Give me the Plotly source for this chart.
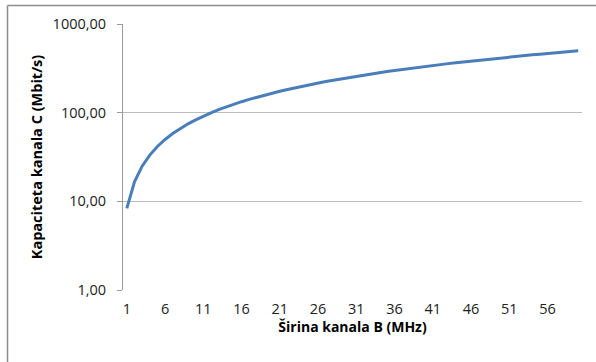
import plotly.graph_objects as go

bandwidth_mhz = list(range(1, 61))
capacity_mbit = [
    8.31, 16.62, 24.93, 33.24, 41.55, 49.86, 58.17, 66.48, 74.79, 83.10,
    91.41, 99.72, 108.03, 116.34, 124.65, 132.96, 141.27, 149.58, 157.89, 166.20,
    174.51, 182.82, 191.13, 199.44, 207.75, 216.06, 224.37, 232.68, 240.99, 249.30,
    257.61, 265.92, 274.23, 282.54, 290.85, 299.16, 307.47, 315.78, 324.09, 332.40,
    340.71, 349.02, 357.33, 365.64, 373.95, 382.26, 390.57, 398.88, 407.19, 415.50,
    423.81, 432.12, 440.43, 448.74, 457.05, 465.36, 473.67, 481.98, 490.29, 498.60,
]
x_tick_vals = [1, 6, 11, 16, 21, 26, 31, 36, 41, 46, 51, 56]
y_tick_vals = [1, 10, 100, 1000]
y_tick_text = ["1,00", "10,00", "100,00", "1000,00"]

font_family = "Open Sans, Liberation Sans, sans-serif"

fig = go.Figure()
fig.add_trace(go.Scatter(
    x=bandwidth_mhz, y=capacity_mbit, mode="lines",
    line=dict(color="#4A7EBB", width=3),
    showlegend=False,
))

W, H = 459, 266
L, T = 123, 24


def px_x(p):
    return (p - L) / W


def px_y(p):
    return 1 + (T - p) / H


border = dict(color="#8C8C8C", width=1.5)

fig.update_layout(
    width=596, height=362,
    margin=dict(l=123, r=14, t=24, b=72),
    paper_bgcolor="white", plot_bgcolor="white",
    font=dict(family=font_family, size=14, color="#222222"),
    xaxis=dict(
        range=[0.5, 60.5],
        tickmode="array", tickvals=x_tick_vals,
        ticktext=[str(v) for v in x_tick_vals],
        showgrid=False, zeroline=False,
        showline=False,
        ticks="", ticklen=0,
        ticklabelstandoff=8,
        automargin=False,
        tickfont=dict(size=14.5),
        title=dict(text="<b>Širina kanala B (MHz)</b>", font=dict(size=14, color="#000000"), standoff=4),
    ),
    yaxis=dict(
        type="log", range=[0, 3],
        tickmode="array", tickvals=y_tick_vals, ticktext=y_tick_text,
        showgrid=True, gridcolor="#BDBDBD", gridwidth=1,
        showline=True, linecolor="#9A9A9A", linewidth=1,
        ticks="outside", ticklen=5, tickcolor="#9A9A9A",
        ticklabelstandoff=8,
        automargin=False,
        zeroline=False,
        tickfont=dict(size=14.5),
        title=dict(text="<b>Kapaciteta kanala C (Mbit/s)</b>", font=dict(size=14.5, color="#000000"), standoff=6),
    ),
    shapes=[
        dict(type="line", xref="paper", yref="paper",
             x0=px_x(7.5), x1=px_x(600), y0=px_y(5.5), y1=px_y(5.5), line=border, layer="above"),
        dict(type="line", xref="paper", yref="paper",
             x0=px_x(7.5), x1=px_x(7.5), y0=px_y(5.5), y1=px_y(370), line=border, layer="above"),
    ],
)

fig.write_html("out.html", config={"displayModeBar": False},
               post_script="document.body.style.margin='0px';")
